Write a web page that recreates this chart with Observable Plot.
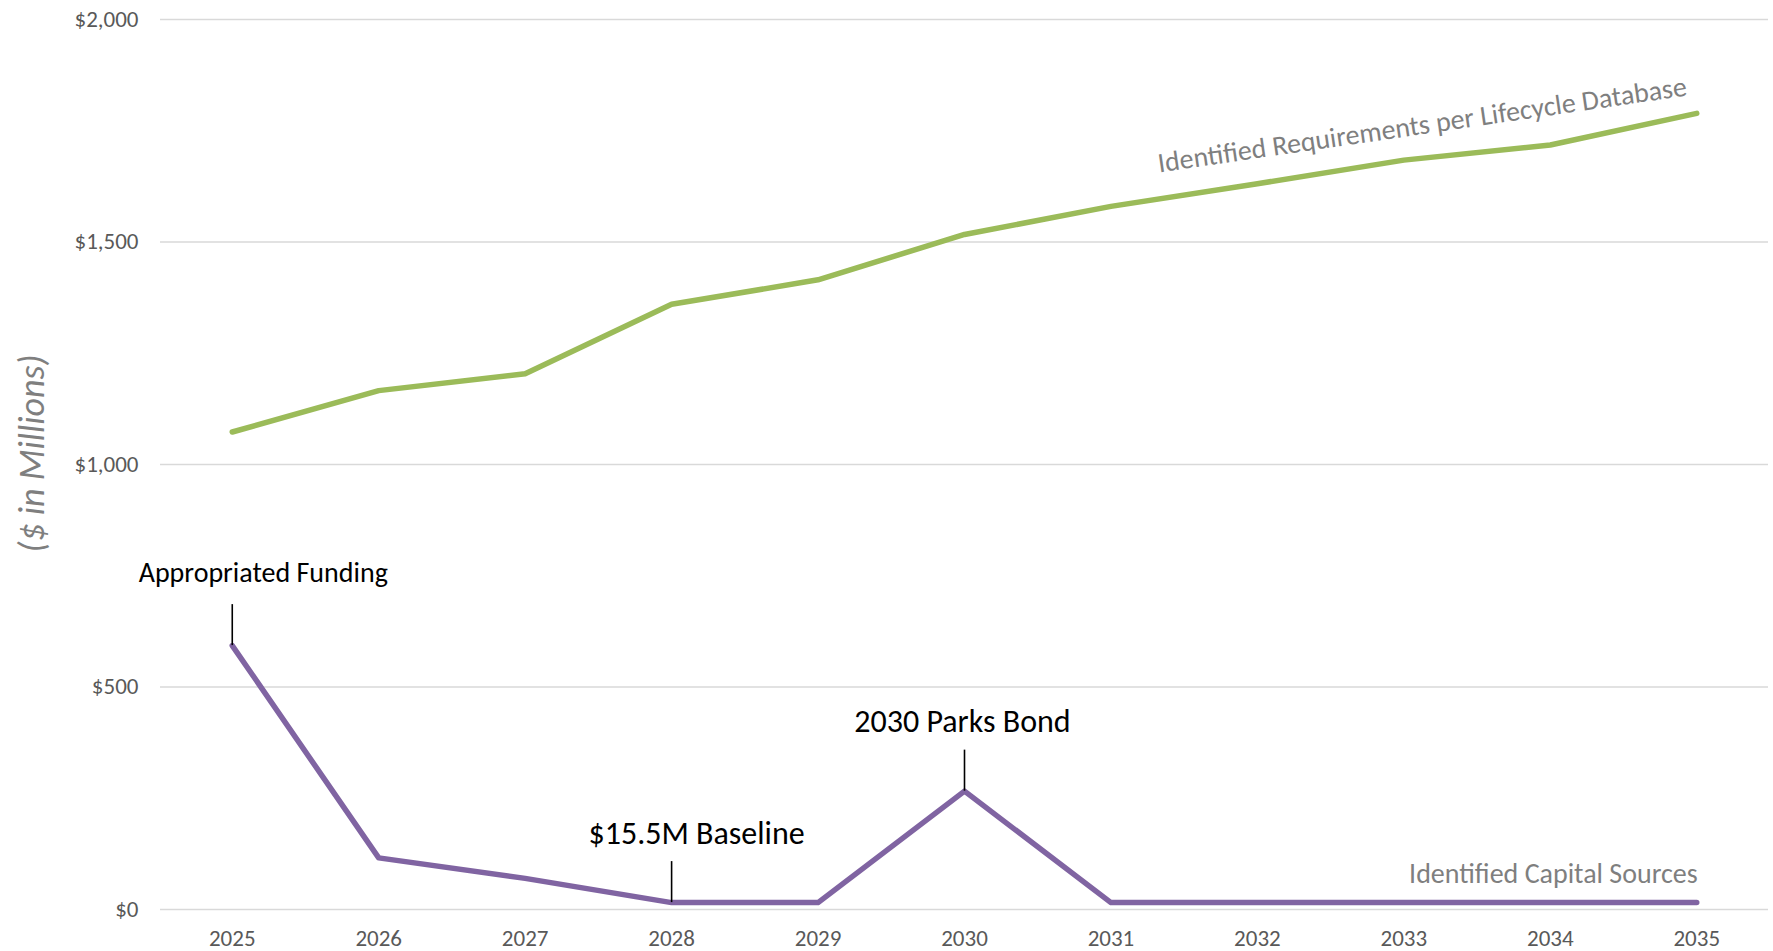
<!DOCTYPE html>
<html>
<head>
<meta charset="utf-8">
<script src="https://cdn.jsdelivr.net/npm/d3@7"></script>
<script src="https://cdn.jsdelivr.net/npm/@observablehq/plot@0.6"></script>
<style>
  html, body { margin: 0; padding: 0; background: #fff; overflow: hidden; }
  #chart svg { display: block; }
</style>
</head>
<body>
<div id="chart"></div>
<script>
// ---- data ----
const years = [2025, 2026, 2027, 2028, 2029, 2030, 2031, 2032, 2033, 2034, 2035];
const requirements = [1073, 1166, 1204, 1360, 1415, 1517, 1580, 1631, 1684, 1718, 1789];
const capitalSources = [593, 116, 70, 15.5, 15.5, 266, 15.5, 15.5, 15.5, 15.5, 15.5];
const yTicks = [0, 500, 1000, 1500, 2000];
const requirementsLabel = "Identified Requirements per Lifecycle Database";
const capitalLabel = "Identified Capital Sources";
const yLabel = "($ in Millions)";
const annotationYears = [2025, 2028, 2030];
const annotationLabels = ["Appropriated Funding", "$15.5M Baseline", "2030 Parks Bond"];

// ---- layout ----
const W = 1773, H = 951;
const mTop = 19, mBottom = 42, mLeft = 160, mRight = 5;
const pxPerUnit = (H - mTop - mBottom) / (yTicks[yTicks.length - 1] - yTicks[0]);
const tickLenPx = 41;

const reqData = years.map((year, i) => ({year, value: requirements[i]}));
const capData = years.map((year, i) => ({year, value: capitalSources[i]}));
const annData = annotationYears.map((year, i) => ({
  year, label: annotationLabels[i], value: capitalSources[years.indexOf(year)]
}));
const lastReq = reqData[reqData.length - 1];
const lastCap = capData[capData.length - 1];

const FONT = "Carlito, Calibri, Lato, 'Open Sans', sans-serif";
const GREEN = "#9bbb59", PURPLE = "#8064a2", GRID = "#d9d9d9", TICK = "#595959", SERIES = "#7f7f7f";

const chart = Plot.plot({
  width: W,
  height: H,
  marginTop: mTop,
  marginBottom: mBottom,
  marginLeft: mLeft,
  marginRight: mRight,
  style: {fontFamily: FONT, fontSize: "23px", color: TICK, background: "#fff"},
  x: {type: "point", domain: years, padding: 0.49, round: false, label: null},
  y: {domain: [0, 2000], label: null},
  marks: [
    Plot.gridY(yTicks, {stroke: GRID, strokeOpacity: 1, strokeWidth: 1.6}),
    Plot.axisX({tickSize: 0, tickPadding: 20, fontSize: 23, label: null, tickFormat: d => String(d)}),
    Plot.axisY(yTicks, {tickSize: 0, tickPadding: 22, fontSize: 23, label: null,
      tickFormat: d => "$" + d3.format(",")(d)}),
    Plot.line(reqData, {x: "year", y: "value", stroke: GREEN, strokeWidth: 5.5,
      strokeLinecap: "round", strokeLinejoin: "round"}),
    Plot.line(capData, {x: "year", y: "value", stroke: PURPLE, strokeWidth: 5.5,
      strokeLinecap: "round", strokeLinejoin: "round"}),
    // annotation ticks
    Plot.ruleX(annData, {x: "year", y1: "value", y2: d => d.value + tickLenPx / pxPerUnit,
      stroke: "#000", strokeWidth: 1.6}),
    // annotation labels
    Plot.text(annData.filter(d => d.year === 2025), {x: "year", y: "value", text: "label",
      dx: 31, dy: -(tickLenPx + 23), lineAnchor: "bottom", fontSize: 28, fill: "#000"}),
    Plot.text(annData.filter(d => d.year === 2028), {x: "year", y: "value", text: "label",
      dx: 25, dy: -(tickLenPx + 18), lineAnchor: "bottom", fontSize: 32, fill: "#000"}),
    Plot.text(annData.filter(d => d.year === 2030), {x: "year", y: "value", text: "label",
      dx: -2, dy: -(tickLenPx + 18), lineAnchor: "bottom", fontSize: 32, fill: "#000"}),
    // series labels
    Plot.text([lastReq], {x: "year", y: "value", text: () => requirementsLabel,
      textAnchor: "end", lineAnchor: "bottom", rotate: -8.3, dx: -9, dy: -18,
      fontSize: 28, fill: SERIES}),
    Plot.text([lastCap], {x: "year", y: "value", text: () => capitalLabel,
      textAnchor: "end", lineAnchor: "bottom", dx: 1, dy: -20,
      fontSize: 28, fill: SERIES}),
    // y axis title
    Plot.text([yLabel], {frameAnchor: "left", textAnchor: "middle", text: d => d, rotate: -90,
      dx: -128, dy: -11, fontSize: 36, fontStyle: "italic", fill: SERIES})
  ]
});
document.getElementById("chart").appendChild(chart);
</script>
</body>
</html>
